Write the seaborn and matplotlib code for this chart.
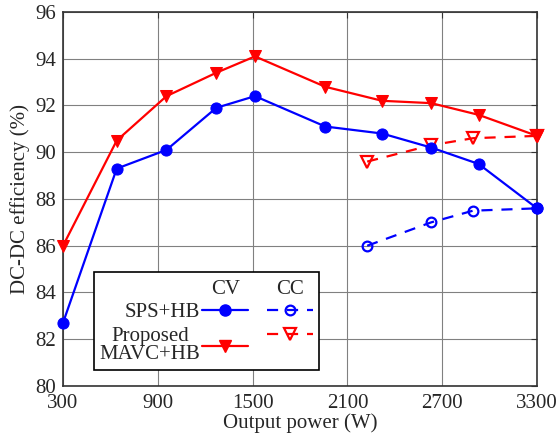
import matplotlib
matplotlib.use("Agg")
import matplotlib.pyplot as plt
import seaborn as sns
import pandas as pd
from matplotlib.lines import Line2D

sns.set_style("white")
plt.rcParams['font.family'] = ['Liberation Serif', 'DejaVu Serif']

power_cv = [300, 640, 955, 1270, 1515, 1960, 2320, 2630, 2930, 3300]
sps_cv = [82.7, 89.3, 90.1, 91.9, 92.4, 91.1, 90.8, 90.2, 89.5, 87.6]
mavc_cv = [86.0, 90.5, 92.4, 93.4, 94.1, 92.8, 92.2, 92.1, 91.6, 90.7]
power_cc = [2225, 2630, 2895, 3300]
sps_cc = [86.0, 87.0, 87.5, 87.6]
mavc_cc = [89.6, 90.3, 90.6, 90.7]
xticks = [300, 900, 1500, 2100, 2700, 3300]
yticks = [80, 82, 84, 86, 88, 90, 92, 94, 96]

FS = 15
fig = plt.figure(figsize=(5.6, 4.34), dpi=100)
ax = fig.add_axes([0.1125, 0.1106, 0.8465, 0.8618])

blue = '#0000ff'
red = '#ff0000'
dash = (0, (5, 4))

sns.lineplot(x=power_cv, y=sps_cv, ax=ax, color=blue, marker='o', markersize=8,
             markeredgecolor=blue, linewidth=1.6, clip_on=False, zorder=5)
sns.lineplot(x=power_cv, y=mavc_cv, ax=ax, color=red, marker='v', markersize=9,
             markeredgecolor=red, linewidth=1.6, clip_on=False, zorder=5)
sns.lineplot(x=power_cc, y=sps_cc, ax=ax, color=blue, marker='o', markersize=7,
             markerfacecolor='none', markeredgecolor=blue, markeredgewidth=1.6,
             linewidth=1.6, linestyle=dash, clip_on=False, zorder=4)
sns.lineplot(x=power_cc, y=mavc_cc, ax=ax, color=red, marker='v', markersize=8,
             markerfacecolor='none', markeredgecolor=red, markeredgewidth=1.6,
             linewidth=1.6, linestyle=dash, clip_on=False, zorder=4)

ax.set_xlim(300, 3300)
ax.set_ylim(80, 96)
ax.set_xticks(xticks)
ax.set_yticks(yticks)
ax.tick_params(axis='both', labelsize=FS, direction='in', top=True, right=True,
               length=4, width=0.8, color='#333333')
ax.tick_params(axis='x', pad=6)
ax.tick_params(axis='y', pad=5)
ax.grid(True, color='#808080', linewidth=0.8)
for s in ax.spines.values():
    s.set_color('#333333')
    s.set_linewidth(1.2)
ax.set_xlabel('Output power (W)', fontsize=FS, labelpad=0)
ax.set_ylabel('DC-DC efficiency (%)', fontsize=FS, labelpad=4)

blank = Line2D([], [], alpha=0)
h_sps_cv = Line2D([], [], color=blue, marker='o', markersize=8, linewidth=1.6)
h_mavc_cv = Line2D([], [], color=red, marker='v', markersize=9, linewidth=1.6)
h_sps_cc = Line2D([], [], color=blue, marker='o', markersize=7, markerfacecolor='none',
                  markeredgewidth=1.6, linewidth=1.6, linestyle=dash)
h_mavc_cc = Line2D([], [], color=red, marker='v', markersize=8, markerfacecolor='none',
                   markeredgewidth=1.6, linewidth=1.6, linestyle=dash)
handles = [blank, h_sps_cv, h_mavc_cv, blank, h_sps_cc, h_mavc_cc]
labels = ['', 'SPS+HB', 'Proposed\nMAVC+HB', '', '', '']
leg = ax.legend(handles, labels, ncol=2, markerfirst=False, loc='lower left',
                bbox_to_anchor=(0.065, 0.042), fontsize=FS, frameon=True,
                fancybox=False, edgecolor='black', framealpha=1,
                handlelength=2.2, handletextpad=0.1, columnspacing=0.8,
                labelspacing=0.25, borderpad=0.28, borderaxespad=0)
leg.get_frame().set_linewidth(1.2)
leg.set_zorder(10)
for t in leg.get_texts():
    t.set_multialignment('center')
    t.set_linespacing(0.95)

fig.canvas.draw()
inv = ax.transAxes.inverted()
frame_bb = leg.get_frame().get_window_extent()
for h, txt in [(leg.legend_handles[1], 'CV'), (leg.legend_handles[4], 'CC')]:
    bb = h.get_window_extent()
    xc = (bb.x0 + bb.x1) / 2
    yc = frame_bb.y1 - 18
    xa, ya = inv.transform((xc, yc))
    ax.text(xa, ya, txt, transform=ax.transAxes, fontsize=FS, ha='center',
            va='center', zorder=20)

fig.savefig('out.png', dpi=100)
